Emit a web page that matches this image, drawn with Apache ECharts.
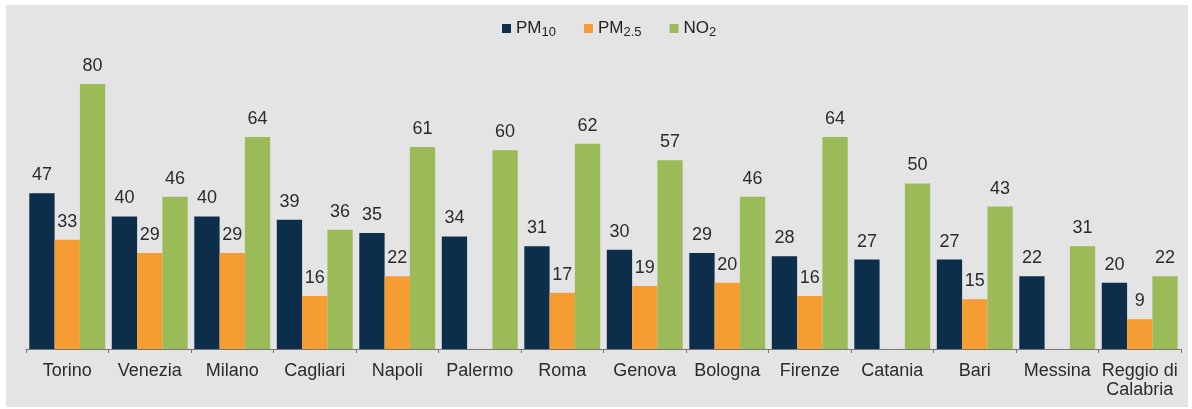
<!DOCTYPE html>
<html><head><meta charset="utf-8">
<script src="https://cdn.jsdelivr.net/npm/echarts@6/dist/echarts.min.js"></script>
<style>
html,body{margin:0;padding:0;background:#fff;width:1192px;height:409px;overflow:hidden}
#bg{position:absolute;left:6px;top:5px;width:1182px;height:402px;background:#e4e4e4}
#c{position:absolute;left:0;top:0;width:1192px;height:409px}
</style></head><body>
<div id="bg"></div><div id="c"></div>
<script>
const categories = ['Torino','Venezia','Milano','Cagliari','Napoli','Palermo','Roma','Genova','Bologna','Firenze','Catania','Bari','Messina','Reggio di\nCalabria'];
const pm10 = [47,40,40,39,35,34,31,30,29,28,27,27,22,20];
const pm25 = [33,29,29,16,22,null,17,19,20,16,null,15,null,9];
const no2 = [80,46,64,36,61,60,62,57,46,64,50,43,31,22];
const seriesNames = ['PM10','PM2.5','NO2'];

const FF = 'Liberation Sans, Arial, sans-serif';
const chart = echarts.init(document.getElementById('c'));
const labelStyle = {show:true, position:'top', distance:9, color:'#2b2b2b', fontSize:18, fontFamily:FF};
const legendRich = {
  m:{fontSize:17, color:'#222', fontFamily:FF},
  s:{fontSize:13, color:'#222', fontFamily:FF, padding:[7,0,0,0]}
};
function fmtLegend(n){
  if(n==='PM10') return '{m|PM}{s|10}';
  if(n==='PM2.5') return '{m|PM}{s|2.5}';
  return '{m|NO}{s|2}';
}
chart.setOption({
  animation:false,
  backgroundColor:'transparent',
  legend:{top:15, left:497, itemWidth:9, itemHeight:9, itemGap:28, icon:'rect',
    formatter:fmtLegend, textStyle:{rich:legendRich}, data:seriesNames},
  grid:{left:26, right:11, top:84, bottom:60, containLabel:false},
  xAxis:{type:'category', data:categories,
    axisLine:{lineStyle:{color:'#777', width:1}},
    axisTick:{show:true, length:4, lineStyle:{color:'#777'}},
    axisLabel:{color:'#2b2b2b', fontSize:18, fontFamily:FF, margin:13, interval:0, lineHeight:19}},
  yAxis:{type:'value', min:0, max:80, show:false, splitLine:{show:false}},
  series:[
    {name:'PM10', type:'bar', data:pm10, itemStyle:{color:'#0c2e4a'}, barGap:'0%', barCategoryGap:'8%', label:labelStyle},
    {name:'PM2.5', type:'bar', data:pm25, itemStyle:{color:'#f59d32'}, barGap:'0%', barCategoryGap:'8%', label:labelStyle},
    {name:'NO2', type:'bar', data:no2, itemStyle:{color:'#9bbb59'}, barGap:'0%', barCategoryGap:'8%', label:labelStyle}
  ]
});
</script></body></html>
